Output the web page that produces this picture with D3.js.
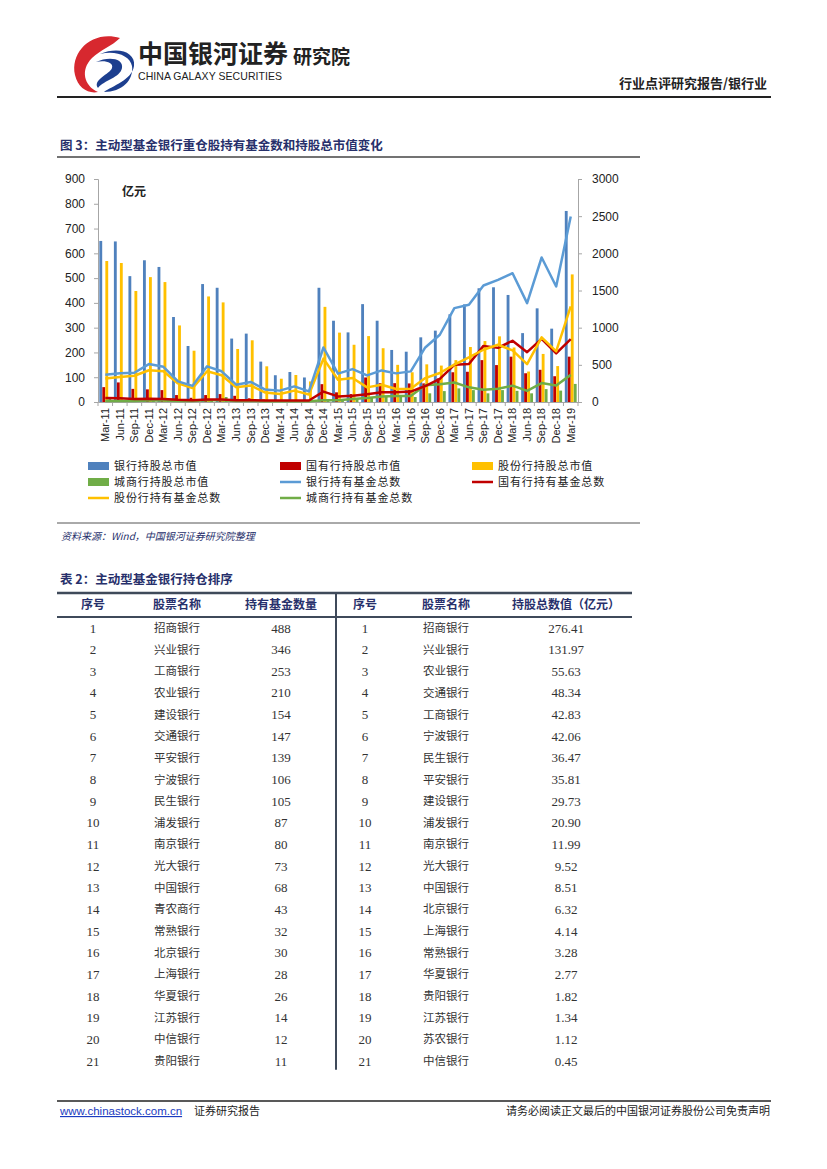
<!DOCTYPE html>
<html>
<head>
<meta charset="utf-8">
<script src="https://cdn.jsdelivr.net/npm/d3@7"></script>
<style>
  body { margin: 0; background: #fff; }
</style>
</head>
<body>
<script>
const quarters = ['Mar-11','Jun-11','Sep-11','Dec-11','Mar-12','Jun-12','Sep-12','Dec-12','Mar-13','Jun-13','Sep-13','Dec-13',
  'Mar-14','Jun-14','Sep-14','Dec-14','Mar-15','Jun-15','Sep-15','Dec-15','Mar-16','Jun-16','Sep-16','Dec-16',
  'Mar-17','Jun-17','Sep-17','Dec-17','Mar-18','Jun-18','Sep-18','Dec-18','Mar-19'];

// bars, left axis (亿元)
const bankValue  = [650,648,508,572,545,343,226,476,461,256,276,163,108,121,99,461,328,281,395,328,210,203,261,288,354,394,459,463,432,278,378,296,771];
const stateValue = [60,79,53,51,48,28,17,28,32,25,15,10,8,8,6,72,39,32,99,76,76,75,75,95,120,122,169,149,183,116,130,104,183];
const jointValue = [569,561,448,504,484,309,207,426,402,214,249,144,94,109,83,384,280,231,266,217,150,120,152,147,169,222,246,265,220,123,194,145,515];
const cityValue  = [18,8,6,10,12,8,6,12,20,8,6,4,3,3,3,8,10,15,20,22,25,20,35,44,55,48,35,48,45,35,52,46,73];

// lines, right axis (fund counts)
const bankFunds  = [367,387,393,510,473,277,217,480,413,233,270,167,153,210,143,733,381,443,358,425,385,412,734,905,1263,1308,1567,1643,1733,1330,1944,1554,2494];
const stateFunds = [55,50,40,45,40,30,25,35,35,25,25,20,20,20,20,140,75,85,105,130,130,140,215,310,500,510,755,728,824,670,850,655,845];
const jointFunds = [317,337,353,427,413,250,187,413,360,197,223,127,107,153,100,583,300,322,197,233,175,179,322,390,502,600,703,770,694,510,869,681,1285];
const cityFunds  = [15,15,15,20,20,15,15,25,25,15,15,10,10,10,10,25,25,40,55,75,80,80,225,240,262,197,165,178,220,150,255,222,365];

const leftTicks = [0,100,200,300,400,500,600,700,800,900];
const rightTicks = [0,500,1000,1500,2000,2500,3000];

// table 2
const rankNo = d3.range(1, 22);
const fundNames = ['招商银行','兴业银行','工商银行','农业银行','建设银行','交通银行','平安银行','宁波银行','民生银行','浦发银行','南京银行',
  '光大银行','中国银行','青农商行','常熟银行','北京银行','上海银行','华夏银行','江苏银行','中信银行','贵阳银行'];
const fundCounts = [488,346,253,210,154,147,139,106,105,87,80,73,68,43,32,30,28,26,14,12,11];
const valueNames = ['招商银行','兴业银行','农业银行','交通银行','工商银行','宁波银行','民生银行','平安银行','建设银行','浦发银行','南京银行',
  '光大银行','中国银行','北京银行','上海银行','常熟银行','华夏银行','贵阳银行','江苏银行','苏农银行','中信银行'];
const holdValues = ['276.41','131.97','55.63','48.34','42.83','42.06','36.47','35.81','29.73','20.90','11.99','9.52','8.51','6.32','4.14','3.28','2.77','1.82','1.34','1.12','0.45'];

const navy = '#27306b';
const cjk = '"Noto Sans CJK SC", sans-serif';
const sans = '"Liberation Sans", "Noto Sans CJK SC", sans-serif';
const serif = '"Liberation Serif", "Noto Sans CJK SC", serif';

const svg = d3.select('body').append('svg').attr('width', 827).attr('height', 1169).attr('font-family', sans);

// ---- header ----
const logo = svg.append('g');
logo.append('path').attr('d', 'M120,38 C92,30 70,52 75,75 C78,88 88,94 98,92 C84,86 80,70 92,58 C100,50 112,46 120,38 Z').attr('fill', '#d7282f');
logo.append('path').attr('d', 'M100,54 C118,46 136,52 134,66 C132,80 112,86 104,92 C122,92 134,80 132,66 C130,56 116,50 100,54 Z').attr('fill', '#1d3f8f');
logo.append('path').attr('d', 'M96,62 C108,56 124,58 122,68 C120,78 104,80 98,88 C92,80 110,74 112,68 C114,62 104,60 96,62 Z').attr('fill', '#1d3f8f');
svg.append('text').attr('x', 138).attr('y', 63).attr('font-family', cjk).attr('font-weight', 'bold')
  .attr('font-size', 25).attr('fill', '#222').text('中国银河证券');
svg.append('text').attr('x', 138).attr('y', 80).attr('font-size', 10.5).attr('fill', '#222')
  .attr('textLength', 144).text('CHINA GALAXY SECURITIES');
svg.append('text').attr('x', 293).attr('y', 64).attr('font-family', cjk).attr('font-weight', 'bold')
  .attr('font-size', 19).attr('fill', '#222').text('研究院');
svg.append('text').attr('x', 767).attr('y', 88).attr('text-anchor', 'end').attr('font-family', cjk)
  .attr('font-weight', 'bold').attr('font-size', 13).attr('fill', '#222').text('行业点评研究报告/银行业');
svg.append('line').attr('x1', 57).attr('x2', 771).attr('y1', 97).attr('y2', 97).attr('stroke', '#222').attr('stroke-width', 2);

// ---- figure title ----
svg.append('text').attr('x', 60).attr('y', 150).attr('font-family', cjk).attr('font-weight', 'bold')
  .attr('font-size', 12.5).attr('fill', navy).text('图 3：主动型基金银行重仓股持有基金数和持股总市值变化');
svg.append('line').attr('x1', 57).attr('x2', 640).attr('y1', 157).attr('y2', 157).attr('stroke', '#444').attr('stroke-width', 1.5);

// ---- chart ----
const plotLeft = 98, plotRight = 578, plotTop = 179, plotBottom = 402;
const x = d3.scaleBand().domain(quarters).range([plotLeft, plotRight]);
const xs = d3.scaleBand().domain(['bank', 'state', 'joint', 'city']).range([0, x.bandwidth()]).paddingOuter(0.45).paddingInner(0.05);
const yL = d3.scaleLinear().domain([0, 900]).range([plotBottom, plotTop]);
const yR = d3.scaleLinear().domain([0, 3000]).range([plotBottom, plotTop]);

const axisL = svg.append('g').attr('transform', `translate(${plotLeft},0)`)
  .call(d3.axisLeft(yL).tickValues(leftTicks).tickSize(4).tickPadding(9).tickFormat(d3.format('d')));
const axisR = svg.append('g').attr('transform', `translate(${plotRight},0)`)
  .call(d3.axisRight(yR).tickValues(rightTicks).tickSize(4).tickPadding(10).tickFormat(d3.format('d')));
[axisL, axisR].forEach(a => {
  a.attr('font-family', sans);
  a.select('.domain').attr('stroke', '#a6a6a6');
  a.selectAll('.tick line').attr('stroke', '#a6a6a6');
  a.selectAll('.tick text').attr('font-size', 12).attr('fill', '#222');
});

// category axis with boundary ticks
const axisX = svg.append('g').attr('transform', `translate(0,${plotBottom})`)
  .call(d3.axisBottom(x).tickSize(0).tickPadding(6));
axisX.attr('font-family', sans);
axisX.select('.domain').attr('stroke', '#a6a6a6');
axisX.selectAll('.tick text').attr('font-size', 11).attr('fill', '#222')
  .attr('transform', 'rotate(-90)').attr('text-anchor', 'end').attr('x', -6).attr('y', 0).attr('dy', '0.35em');
svg.append('g').selectAll('line').data(quarters.concat(['end'])).join('line')
  .attr('x1', (d, i) => plotLeft + i * x.step()).attr('x2', (d, i) => plotLeft + i * x.step())
  .attr('y1', plotBottom).attr('y2', plotBottom + 4).attr('stroke', '#a6a6a6');

const barSeries = [
  { key: 'bank', values: bankValue, color: '#4f81bd' },
  { key: 'state', values: stateValue, color: '#c00000' },
  { key: 'joint', values: jointValue, color: '#ffc000' },
  { key: 'city', values: cityValue, color: '#70ad47' }
];
barSeries.forEach(s => {
  svg.append('g').selectAll('rect').data(s.values).join('rect')
    .attr('x', (d, i) => x(quarters[i]) + xs(s.key))
    .attr('y', d => yL(d))
    .attr('width', xs.bandwidth())
    .attr('height', d => plotBottom - yL(d))
    .attr('fill', s.color);
});

const lineSeries = [
  { values: cityFunds, color: '#70ad47' },
  { values: stateFunds, color: '#c00000' },
  { values: jointFunds, color: '#ffc000' },
  { values: bankFunds, color: '#5b9bd5' }
];
const line = d3.line().x((d, i) => x(quarters[i]) + x.bandwidth() / 2).y(d => yR(d));
lineSeries.forEach(s => {
  svg.append('path').datum(s.values).attr('d', line).attr('fill', 'none')
    .attr('stroke', s.color).attr('stroke-width', 2.5).attr('stroke-linejoin', 'round');
});

svg.append('text').attr('x', 122).attr('y', 196).attr('font-family', cjk).attr('font-weight', 'bold')
  .attr('font-size', 12).attr('fill', '#222').text('亿元');

// legend
const legendItems = [
  { label: '银行持股总市值', color: '#4f81bd', type: 'bar' },
  { label: '国有行持股总市值', color: '#c00000', type: 'bar' },
  { label: '股份行持股总市值', color: '#ffc000', type: 'bar' },
  { label: '城商行持股总市值', color: '#70ad47', type: 'bar' },
  { label: '银行持有基金总数', color: '#5b9bd5', type: 'line' },
  { label: '国有行持有基金总数', color: '#c00000', type: 'line' },
  { label: '股份行持有基金总数', color: '#ffc000', type: 'line' },
  { label: '城商行持有基金总数', color: '#70ad47', type: 'line' }
];
const legendX = [88, 280, 472], legendY = [466, 482, 498];
const lg = svg.append('g').selectAll('g').data(legendItems).join('g')
  .attr('transform', (d, i) => `translate(${legendX[i % 3]},${legendY[Math.floor(i / 3)]})`);
lg.filter(d => d.type === 'bar').append('rect').attr('x', 0).attr('y', -4).attr('width', 21).attr('height', 8).attr('fill', d => d.color);
lg.filter(d => d.type === 'line').append('line').attr('x1', 0).attr('x2', 21).attr('y1', 0).attr('y2', 0)
  .attr('stroke', d => d.color).attr('stroke-width', 2.5);
lg.append('text').attr('x', 26).attr('y', 0).attr('dy', '0.36em').attr('font-family', cjk)
  .attr('font-size', 11).attr('letter-spacing', 0.9).attr('fill', '#222').text(d => d.label);

svg.append('line').attr('x1', 57).attr('x2', 640).attr('y1', 523).attr('y2', 523).attr('stroke', '#555').attr('stroke-width', 1);
svg.append('text').attr('x', 61).attr('y', 540).attr('font-family', cjk).attr('font-style', 'italic')
  .attr('font-size', 10).attr('fill', navy).text('资料来源：Wind，中国银河证券研究院整理');

// ---- table ----
svg.append('text').attr('x', 60).attr('y', 584).attr('font-family', cjk).attr('font-weight', 'bold')
  .attr('font-size', 12.5).attr('fill', navy).text('表 2：主动型基金银行持仓排序');

const tLeft = 57, tRight = 632, tTop = 593, headH = 24, rowH = 21.65, divX = 336;
const colX = [93, 177, 281, 365, 446, 566];
const headers = ['序号', '股票名称', '持有基金数量', '序号', '股票名称', '持股总数值（亿元）'];
svg.append('line').attr('x1', tLeft).attr('x2', tRight).attr('y1', tTop).attr('y2', tTop).attr('stroke', '#3f4a5a').attr('stroke-width', 2.5);
svg.append('line').attr('x1', tLeft).attr('x2', tRight).attr('y1', tTop + headH).attr('y2', tTop + headH).attr('stroke', '#3f4a5a').attr('stroke-width', 2);
svg.append('line').attr('x1', divX).attr('x2', divX).attr('y1', tTop).attr('y2', tTop + headH + rowH * 21 - 2).attr('stroke', '#3f4a5a').attr('stroke-width', 2);
svg.append('g').selectAll('text').data(headers).join('text')
  .attr('x', (d, i) => colX[i]).attr('y', tTop + headH / 2).attr('dy', '0.36em').attr('text-anchor', 'middle')
  .attr('font-family', cjk).attr('font-weight', 'bold').attr('font-size', 12).attr('fill', navy).text(d => d);

const rows = rankNo.map((n, i) => [n, fundNames[i], fundCounts[i], n, valueNames[i], holdValues[i]]);
const rowG = svg.append('g').selectAll('g').data(rows).join('g')
  .attr('transform', (d, i) => `translate(0,${tTop + headH + rowH * (i + 0.5)})`);
rowG.selectAll('text').data(d => d).join('text')
  .attr('x', (d, i) => colX[i]).attr('dy', '0.36em').attr('text-anchor', 'middle')
  .attr('font-family', (d, i) => (i === 1 || i === 4) ? cjk : serif)
  .attr('font-size', (d, i) => (i === 1 || i === 4) ? 11.5 : 13)
  .attr('fill', '#333').text(d => d);

// ---- footer ----
svg.append('line').attr('x1', 57).attr('x2', 771).attr('y1', 1101).attr('y2', 1101).attr('stroke', '#222').attr('stroke-width', 1.5);
svg.append('text').attr('x', 60).attr('y', 1115).attr('font-size', 11.5).attr('fill', '#1a3bbf')
  .attr('text-decoration', 'underline').text('www.chinastock.com.cn');
svg.append('text').attr('x', 194).attr('y', 1115).attr('font-family', cjk).attr('font-size', 11).attr('fill', '#222').text('证券研究报告');
svg.append('text').attr('x', 770).attr('y', 1115).attr('text-anchor', 'end').attr('font-family', cjk)
  .attr('font-size', 11).attr('fill', '#222').text('请务必阅读正文最后的中国银河证券股份公司免责声明');
</script>
</body>
</html>
